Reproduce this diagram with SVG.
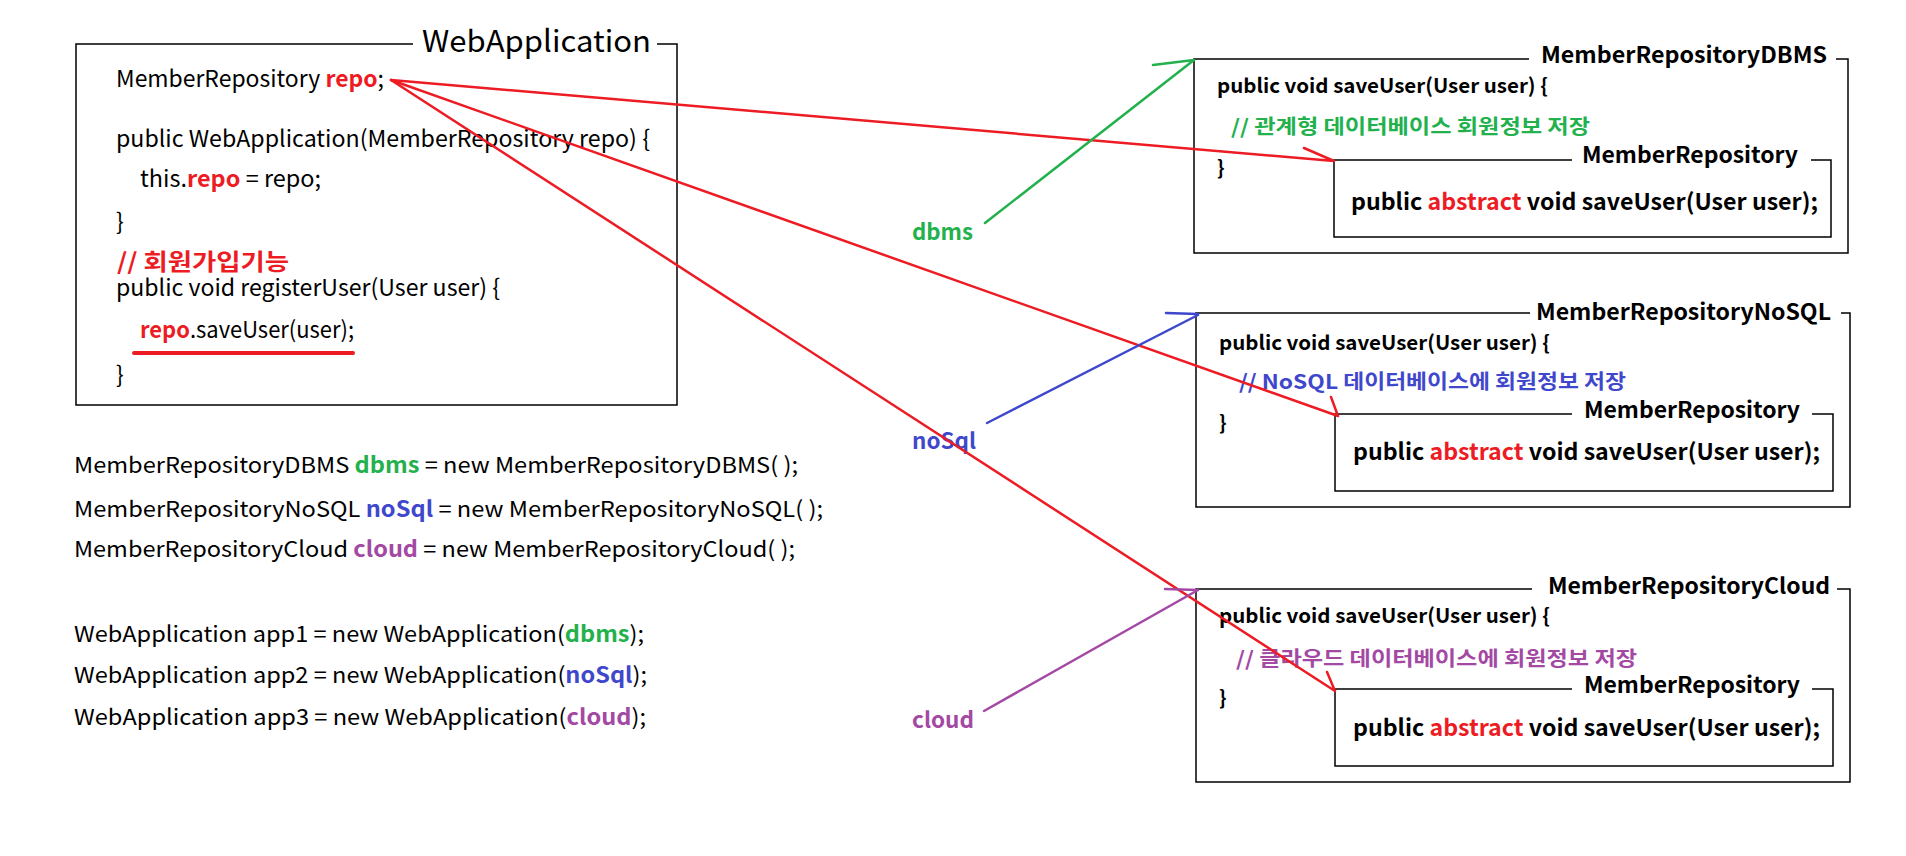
<svg xmlns="http://www.w3.org/2000/svg" width="1906" height="856" viewBox="0 0 1906 856">
<style>
text{font-family:"Noto Sans CJK KR","Liberation Sans",sans-serif;fill:#000}
.b{font-weight:bold}
.red{fill:#ed1c24}
.grn{fill:#22b14c}
.blu{fill:#3f48cc}
.pur{fill:#a349a4}
.box{fill:none;stroke:#000;stroke-width:1.5}
.code{font-size:23px}
.main{font-size:22px}
.rt{font-size:20px;font-weight:bold}
.ttl{font-size:22px;font-weight:bold}
.abs{font-size:23px;font-weight:bold}
.lbl{font-size:22px;font-weight:bold}
.cr{fill:none;stroke:#ed1c24;stroke-width:2.5;stroke-linecap:round}
.cg{fill:none;stroke:#22b14c;stroke-width:2.5;stroke-linecap:round}
.cb{fill:none;stroke:#3f48cc;stroke-width:2.5;stroke-linecap:round}
.cp{fill:none;stroke:#a349a4;stroke-width:2.5;stroke-linecap:round}
</style>
<rect width="1906" height="856" fill="#fff"/>

<g id="webapp">
<path class="box" d="M413,44 H76 V405 H677 V44 H657"/>
<text x="422" y="52" font-size="30" textLength="229" lengthAdjust="spacingAndGlyphs">WebApplication</text>
<text class="code" x="116" y="87" textLength="268" lengthAdjust="spacingAndGlyphs">MemberRepository <tspan class="b red">repo</tspan>;</text>
<text class="code" x="116" y="147" textLength="534" lengthAdjust="spacingAndGlyphs">public WebApplication(MemberRepository repo) {</text>
<text class="code" x="140" y="187" textLength="181" lengthAdjust="spacingAndGlyphs">this.<tspan class="b red">repo</tspan> = repo;</text>
<text class="code" x="116" y="230">}</text>
<text class="code b red" x="117" y="270" textLength="172" lengthAdjust="spacingAndGlyphs">// 회원가입기능</text>
<text class="code" x="116" y="296" textLength="384" lengthAdjust="spacingAndGlyphs">public void registerUser(User user) {</text>
<text class="code" x="140" y="338" textLength="214" lengthAdjust="spacingAndGlyphs"><tspan class="b red">repo</tspan>.saveUser(user);</text>
<line x1="134" y1="353" x2="353" y2="353" stroke="#ed1c24" stroke-width="4" stroke-linecap="round"/>
<text class="code" x="116" y="383">}</text>
</g>

<g id="instantiation">
<text class="main" x="74" y="473" textLength="724" lengthAdjust="spacingAndGlyphs">MemberRepositoryDBMS <tspan class="b grn">dbms</tspan> = new MemberRepositoryDBMS( );</text>
<text class="main" x="74" y="517" textLength="749" lengthAdjust="spacingAndGlyphs">MemberRepositoryNoSQL <tspan class="b blu">noSql</tspan> = new MemberRepositoryNoSQL( );</text>
<text class="main" x="74" y="557" textLength="721" lengthAdjust="spacingAndGlyphs">MemberRepositoryCloud <tspan class="b pur">cloud</tspan> = new MemberRepositoryCloud( );</text>
<text class="main" x="74" y="642" textLength="570" lengthAdjust="spacingAndGlyphs">WebApplication app1 = new WebApplication(<tspan class="b grn">dbms</tspan>);</text>
<text class="main" x="74" y="683" textLength="573" lengthAdjust="spacingAndGlyphs">WebApplication app2 = new WebApplication(<tspan class="b blu">noSql</tspan>);</text>
<text class="main" x="74" y="725" textLength="572" lengthAdjust="spacingAndGlyphs">WebApplication app3 = new WebApplication(<tspan class="b pur">cloud</tspan>);</text>
</g>

<g id="label-dbms"><text class="lbl grn" x="912" y="240" textLength="61" lengthAdjust="spacingAndGlyphs">dbms</text></g>
<g id="label-nosql"><text class="lbl blu" x="912" y="449" textLength="64" lengthAdjust="spacingAndGlyphs">noSql</text></g>
<g id="label-cloud"><text class="lbl pur" x="912" y="728" textLength="62" lengthAdjust="spacingAndGlyphs">cloud</text></g>

<g id="repo-dbms">
<path class="box" d="M1529,59 H1194 V253 H1848 V59 H1836"/>
<text class="ttl" x="1541" y="63" textLength="286" lengthAdjust="spacingAndGlyphs">MemberRepositoryDBMS</text>
<text class="rt" x="1217" y="93" textLength="331" lengthAdjust="spacingAndGlyphs">public void saveUser(User user) {</text>
<text class="rt grn" x="1231" y="134" textLength="359" lengthAdjust="spacingAndGlyphs">// 관계형 데이터베이스 회원정보 저장</text>
<text class="rt" x="1217" y="175">}</text>
<g id="iface-dbms">
<path class="box" d="M1572,160 H1334 V237 H1831 V160 H1811"/>
<text class="ttl" x="1582" y="163" textLength="216" lengthAdjust="spacingAndGlyphs">MemberRepository</text>
<text class="abs" x="1351" y="210" textLength="467" lengthAdjust="spacingAndGlyphs">public <tspan class="red">abstract</tspan> void saveUser(User user);</text>
</g>
</g>

<g id="repo-nosql">
<path class="box" d="M1530,313 H1196 V507 H1850 V313 H1841"/>
<text class="ttl" x="1536" y="320" textLength="295" lengthAdjust="spacingAndGlyphs">MemberRepositoryNoSQL</text>
<text class="rt" x="1219" y="350" textLength="331" lengthAdjust="spacingAndGlyphs">public void saveUser(User user) {</text>
<text class="rt blu" x="1239" y="389" textLength="387" lengthAdjust="spacingAndGlyphs">// NoSQL 데이터베이스에 회원정보 저장</text>
<text class="rt" x="1219" y="430">}</text>
<g id="iface-nosql">
<path class="box" d="M1572,414 H1335 V491 H1833 V414 H1812"/>
<text class="ttl" x="1584" y="418" textLength="216" lengthAdjust="spacingAndGlyphs">MemberRepository</text>
<text class="abs" x="1353" y="460" textLength="467" lengthAdjust="spacingAndGlyphs">public <tspan class="red">abstract</tspan> void saveUser(User user);</text>
</g>
</g>

<g id="repo-cloud">
<path class="box" d="M1532,589 H1196 V782 H1850 V589 H1837"/>
<text class="ttl" x="1548" y="594" textLength="282" lengthAdjust="spacingAndGlyphs">MemberRepositoryCloud</text>
<text class="rt" x="1219" y="623" textLength="331" lengthAdjust="spacingAndGlyphs">public void saveUser(User user) {</text>
<text class="rt pur" x="1236" y="666" textLength="401" lengthAdjust="spacingAndGlyphs">// 클라우드 데이터베이스에 회원정보 저장</text>
<text class="rt" x="1219" y="705">}</text>
<g id="iface-cloud">
<path class="box" d="M1572,689 H1335 V766 H1833 V689 H1812"/>
<text class="ttl" x="1584" y="693" textLength="216" lengthAdjust="spacingAndGlyphs">MemberRepository</text>
<text class="abs" x="1353" y="736" textLength="467" lengthAdjust="spacingAndGlyphs">public <tspan class="red">abstract</tspan> void saveUser(User user);</text>
</g>
</g>

<g id="connectors">
<path class="cr" d="M391,80 L1334,161 M1304,148 L1334,161"/>
<path class="cr" d="M391,80 L1338,416 M1331,397 L1338,416"/>
<path class="cr" d="M391,80 L1335,691 M1327,672 L1335,691"/>
<path class="cg" d="M985,223 L1194,60 M1153,65 L1194,60"/>
<path class="cb" d="M987,423 L1198,315 M1166,313 L1198,314"/>
<path class="cp" d="M984,711 L1198,590 M1165,589 L1198,590"/>
</g>
</svg>
